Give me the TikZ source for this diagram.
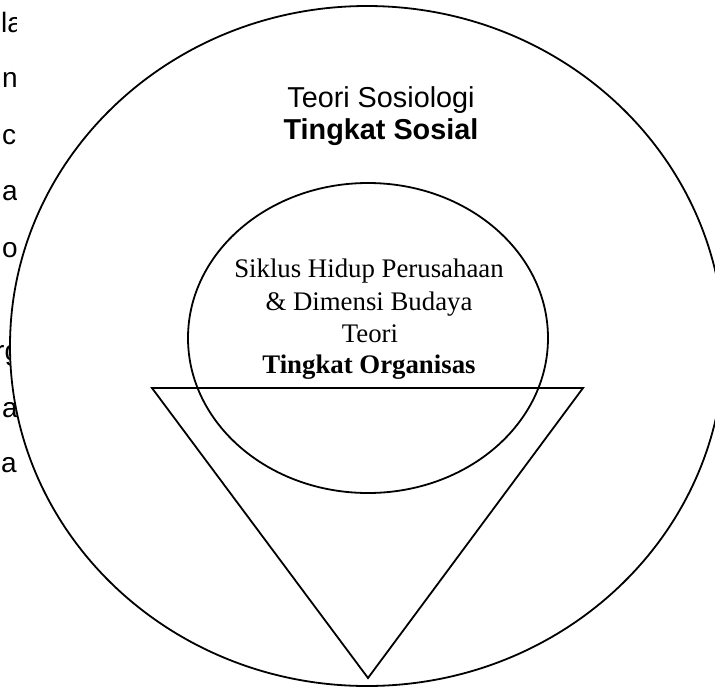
\documentclass[tikz,border=0pt]{standalone}
\usepackage{fontspec}
\setmainfont{Liberation Serif}
\newfontfamily\arialfont{Liberation Sans}
\begin{document}
\begin{tikzpicture}[x=1pt,y=-1pt,
  shapeline/.style={draw=black, line width=1.8pt, line join=miter},
  sanstext/.style={font=\arialfont\fontsize{28.8}{33}\selectfont, inner sep=0pt, anchor=base},
  sansbold/.style={font=\arialfont\bfseries\fontsize{28.8}{33}\selectfont, inner sep=0pt, anchor=base},
  seriftext/.style={font=\fontsize{26.8}{32}\selectfont, inner sep=0pt, anchor=base},
  serifbold/.style={font=\bfseries\fontsize{26.8}{32}\selectfont, inner sep=0pt, anchor=base},
  edgetext/.style={font=\arialfont\fontsize{28}{32}\selectfont, inner sep=0pt, anchor=base west}]
\useasboundingbox (0,0) rectangle (715,689);
\clip (0,0) rectangle (715,689);
\fill[white] (0,0) rectangle (715,689);
% cut-off text fragments at the left edge
\begin{scope}
\clip (0,0) rectangle (16,689);
\node[edgetext] (e1) at (1,32) {la};
\node[edgetext] (e2) at (2,87) {n};
\node[edgetext] (e3) at (2,144) {c};
\node[edgetext] (e4) at (2,200) {a};
\node[edgetext] (e5) at (2,257) {o};
\node[edgetext] (e6) at (-5,360) {rg};
\node[edgetext] (e7) at (2,417) {a};
\node[edgetext] (e8) at (1,472) {a};
\end{scope}
% outer circle
\draw[shapeline, fill=white] (367,346) ellipse [x radius=357, y radius=340];
% inner circle
\draw[shapeline] (368,338) ellipse [x radius=180, y radius=155];
% triangle
\coordinate (tl) at (152,388);
\coordinate (tr) at (583,388);
\coordinate (tb) at (368,678);
\draw[shapeline] (tl) -- (tr) -- (tb) -- cycle;
% texts
\node[sanstext] (s1) at (381,107) {Teori Sosiologi};
\node[sansbold] (s2) at (381,139) {Tingkat Sosial};
\node[seriftext] (o1) at (369,277) {Siklus Hidup Perusahaan};
\node[seriftext] (o2) at (369,310) {\& Dimensi Budaya};
\node[seriftext] (o3) at (370,342) {Teori};
\node[serifbold] (o4) at (369,373) {Tingkat Organisas};
\end{tikzpicture}
\end{document}
